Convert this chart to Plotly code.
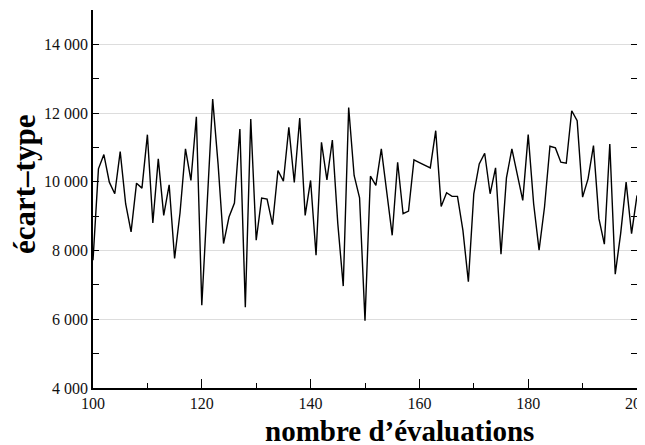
import plotly.graph_objects as go

evaluations = list(range(100, 201))
ecart_type = [
    7720, 10377, 10792, 9990, 9652, 10879, 9362, 8541, 9961, 9816,
    11372, 8802, 10667, 9024, 9913, 7768, 9100, 10957, 10039, 11894,
    6406, 9400, 12406, 10500, 8203, 8976, 9382, 11536, 6348, 11826,
    8300, 9527, 9498, 8754, 10329, 10019, 11585, 9981, 11855, 9024,
    10039, 7865, 11150, 10058, 11217, 8783, 6966, 12164, 10184, 9536,
    5961, 10164, 9894, 10957, 9700, 8444, 10570, 9072, 9150, 10638,
    10560, 10480, 10406, 11488, 9285, 9681, 9575, 9575, 8589, 7092,
    9652, 10522, 10831, 9652, 10406, 7894, 10116, 10957, 10232, 9459,
    11372, 9362, 8010, 9266, 11034, 10986, 10570, 10541, 12068, 11778,
    9556, 10087, 11053, 8928, 8184, 11101, 7314, 8500, 9990, 8493,
    9604,
]

y_tickvals = [4000, 6000, 8000, 10000, 12000, 14000]
y_ticktext = ["4 000", "6 000", "8 000", "10 000", "12 000", "14 000"]
x_tickvals = [100, 120, 140, 160, 180, 200]

serif = "Liberation Serif, Times New Roman, serif"

# page offset (browser body margin)
OFF = 8
L, R, T, B = 93 - OFF, 645 - 637 + OFF, 10 - OFF, 445 - 388 + OFF

fig = go.Figure()
fig.add_trace(go.Scatter(
    x=evaluations, y=ecart_type, mode="lines",
    line=dict(color="black", width=1.4), showlegend=False,
))

fig.update_layout(
    width=645, height=445,
    margin=dict(l=L, r=R, t=T, b=B, autoexpand=False),
    paper_bgcolor="white", plot_bgcolor="white",
    font=dict(family=serif, color="#111111", size=16),
    xaxis=dict(
        range=[100, 200], tickvals=x_tickvals,
        ticks="inside", ticklen=9, tickcolor="black", tickwidth=1,
        minor=dict(dtick=10, tick0=100, ticks="inside", ticklen=5, tickcolor="black"),
        showline=True, linecolor="black", linewidth=1.5,
        showgrid=False, zeroline=False,
        tickfont=dict(family=serif, size=16),
    ),
    yaxis=dict(
        range=[4000, 15000], tickvals=y_tickvals, ticktext=y_ticktext,
        ticks="inside", ticklen=6, tickcolor="black", tickwidth=1,
        minor=dict(dtick=1000, tick0=4000, ticks="inside", ticklen=6, tickcolor="black", showgrid=False),
        showline=True, linecolor="black", linewidth=1.5, mirror="ticks",
        showgrid=True, gridcolor="#dddddd", gridwidth=1, zeroline=False,
        tickfont=dict(family=serif, size=16),
    ),
)

pw = 645 - L - R
ph = 445 - T - B
fig.add_annotation(text="<b>nombre d’évaluations</b>",
                   x=(399 - OFF - L) / pw, y=(445 - B - (431 - OFF)) / ph,
                   xref="paper", yref="paper", xanchor="center", yanchor="middle",
                   showarrow=False, font=dict(family=serif, size=29, color="black"))
fig.add_annotation(text="<b>écart–type</b>", textangle=-90,
                   x=(25 - OFF - L) / pw, y=(445 - B - (185 - OFF)) / ph,
                   xref="paper", yref="paper", xanchor="center", yanchor="middle",
                   showarrow=False, font=dict(family=serif, size=31, color="black"))

fig.write_html("out.html")
